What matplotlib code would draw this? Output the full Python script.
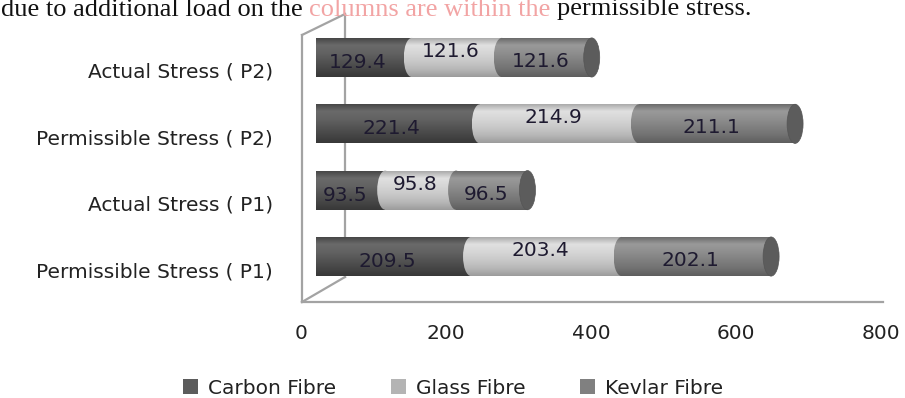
import numpy as np
import matplotlib
matplotlib.use("Agg")
import matplotlib.pyplot as plt
from matplotlib.patches import Ellipse, Patch
from matplotlib.lines import Line2D
from matplotlib.colors import to_rgb
from matplotlib.transforms import ScaledTranslation

# ---------------- data ----------------
categories = ['Permissible Stress ( P1)', 'Actual Stress ( P1)',
              'Permissible Stress ( P2)', 'Actual Stress ( P2)']
carbon = [209.5, 93.5, 221.4, 129.4]
glass = [203.4, 95.8, 214.9, 121.6]
kevlar = [202.1, 96.5, 211.1, 121.6]
series_names = ['Carbon Fibre', 'Glass Fibre', 'Kevlar Fibre']
x_ticks = [0, 200, 400, 600, 800]
header_parts = ["due to additional load on the", "columns are within the", "permissible stress."]

# ---------------- styles ----------------
base_colors = ['#5c5c5c', '#b4b4b4', '#808080']
grad_stops = [
    ['#434343', '#6a6a6a', '#626262', '#545454', '#464646', '#383838'],
    ['#a4a4a4', '#e0e0e0', '#d6d6d6', '#c9c9c9', '#b8b8b8', '#9c9c9c'],
    ['#666666', '#9a9a9a', '#8e8e8e', '#808080', '#727272', '#5e5e5e'],
]
cap_color = '#5c5c5c'
label_dy_px = [5, -6, 4]
W, H = 905, 398
DPI = 100
plt.rcParams['font.family'] = ['DejaVu Sans']
FS = 14.5
TXT = '#222222'


def fx(px):
    return px / W


def fy(py):
    return 1 - py / H


fig = plt.figure(figsize=(W / DPI, H / DPI), dpi=DPI)
fig.patch.set_facecolor('white')

# ---------- floor axes (for the value scale) ----------
ax2 = fig.add_axes([fx(301), fy(302), fx(881) - fx(301), fy(15) - fy(302)], zorder=0)
ax2.set_facecolor('none')
ax2.set_xlim(0, 800)
ax2.set_ylim(0, 1)
ax2.set_xticks(x_ticks)
ax2.set_xticklabels([str(t) for t in x_ticks], fontsize=FS, color=TXT)
ax2.tick_params(axis='x', length=0, pad=16)
ax2.set_yticks([])
for s in ax2.spines.values():
    s.set_visible(False)

# 3D frame lines (in figure pixels)
frame_col = '#a3a3a3'
segs = [((302, 35), (302, 302)), ((302, 35), (345, 14)), ((345, 14), (345, 277)),
        ((302, 302), (345, 277)), ((302, 302), (883, 302))]
for (xa, ya), (xb, yb) in segs:
    ax2.add_line(Line2D([fx(xa), fx(xb)], [fy(ya), fy(yb)], transform=fig.transFigure,
                        color=frame_col, lw=1.6, clip_on=False, zorder=0))

# ---------- bar axes ----------
scale = 0.74  # px per unit
ax = fig.add_axes([fx(316), fy(289.7), (883 - 316) / W, (289.7 - 24.3) / H], zorder=1)
ax.set_facecolor('none')
for s in ax.spines.values():
    s.set_visible(False)

ypos = np.arange(len(categories))
bar_h = 0.59
ell_w = 16 / scale  # ellipse width in data units
series = [carbon, glass, kevlar]


def grad_image(stops, n=64):
    cols = np.array([to_rgb(c) for c in stops])
    t = np.linspace(0, 1, n)
    tp = np.linspace(0, 1, len(stops))
    img = np.stack([np.interp(t, tp, cols[:, k]) for k in range(3)], axis=1)
    return img[:, None, :]


lefts = np.zeros(len(categories))
for si, vals in enumerate(series):
    vals = np.array(vals)
    bars = ax.barh(ypos, vals, left=lefts, height=bar_h, color=base_colors[si],
                   zorder=1 + 3 * si, label=series_names[si], linewidth=0)
    img = grad_image(grad_stops[si])
    for bi, rect in enumerate(bars.patches):
        x0 = rect.get_x()
        x1 = x0 + rect.get_width()
        y0 = rect.get_y()
        y1 = y0 + rect.get_height()
        im = ax.imshow(img, extent=(x0, x1, y0, y1), aspect='auto', origin='upper',
                       interpolation='bilinear', zorder=2 + 3 * si)
        im.set_clip_path(rect)
        if si > 0:
            el = Ellipse((x0, (y0 + y1) / 2), ell_w, y1 - y0, transform=ax.transData)
            im2 = ax.imshow(img, extent=(x0 - ell_w / 2, x0 + ell_w / 2, y0, y1), aspect='auto',
                            origin='upper', interpolation='bilinear', zorder=2 + 3 * si)
            im2.set_clip_path(el)
        # data label
        ax.annotate(f"{vals[bi]:.1f}", ((x0 + x1) / 2, (y0 + y1) / 2),
                    xytext=(-6 * 0.72, -label_dy_px[si] * 0.72), textcoords='offset points',
                    ha='center', va='center', fontsize=FS, color='#1e1a30', zorder=20)
    lefts = lefts + vals

# right end caps
for bi in range(len(categories)):
    cap = Ellipse((lefts[bi], ypos[bi]), ell_w, bar_h, facecolor=cap_color,
                  edgecolor='#555555', lw=0.5, zorder=15)
    ax.add_patch(cap)

ax.set_xlim(0, (883 - 316) / scale)
ax.set_ylim(-0.5, len(categories) - 0.5)
ax.set_xticks([])
ax.set_yticks(ypos)
ax.set_yticklabels(categories, fontsize=FS, color=TXT)
ax.tick_params(axis='y', length=0, pad=31)
offset = ScaledTranslation(0, -13 / DPI, fig.dpi_scale_trans)
for lab in ax.get_yticklabels():
    lab.set_transform(lab.get_transform() + offset)

# ---------- legend ----------
handles = [Patch(facecolor=c, edgecolor='none') for c in base_colors]
fig.legend(handles, series_names, loc='center', bbox_to_anchor=(fx(453), fy(388)), ncol=3,
           frameon=False, fontsize=FS, handlelength=0.75, handleheight=0.75,
           handletextpad=0.5, columnspacing=2.7, borderpad=0, labelcolor=TXT)

# ---------- header text (cut off at top) ----------
fig.canvas.draw()
renderer = fig.canvas.get_renderer()
hx = 1.0
hcols = ['#111111', '#f2a4a4', '#111111']
for part, col in zip(header_parts, hcols):
    t = fig.text(fx(hx), fy(15.5), part, family='Liberation Serif', fontsize=19,
                 va='baseline', ha='left', color=col)
    bb = t.get_window_extent(renderer=renderer)
    hx = bb.x1 + 6.5

fig.savefig('out.png', dpi=DPI, facecolor='white')
